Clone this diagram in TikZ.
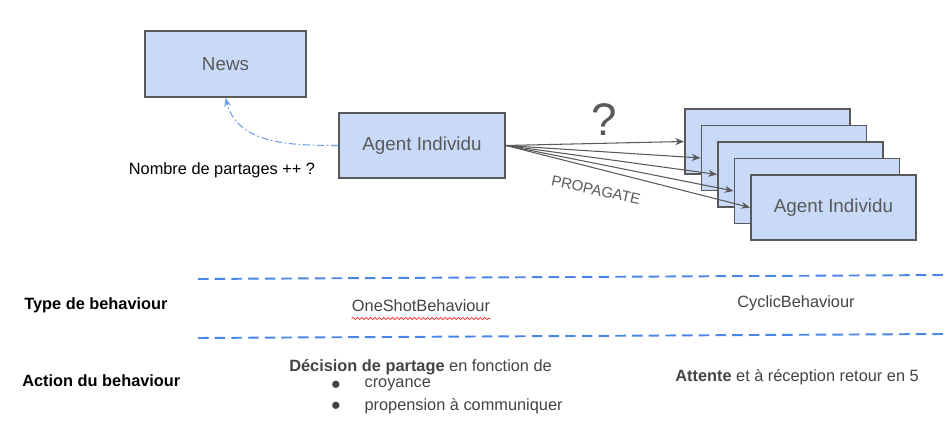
\documentclass[tikz,border=0pt]{standalone}
\usepackage{fontspec}
\setmainfont{Liberation Sans}
\usetikzlibrary{positioning,arrows.meta,decorations.pathmorphing}
\definecolor{boxfill}{HTML}{C9DAF8}
\definecolor{boxline}{HTML}{595959}
\definecolor{sepblue}{HTML}{4A86E8}
\definecolor{linkblue}{HTML}{6D9EEB}
\definecolor{txtgray}{HTML}{434343}
\tikzstyle{AgentBox}=[rectangle, draw=boxline, fill=boxfill, line width=1.1pt, minimum width=3.3cm, minimum height=1.3cm, text=boxline, font=\fontsize{10.7}{12}\selectfont]
\tikzstyle{Etiqueta}=[inner sep=0pt, font=\fontsize{9.3}{11}\selectfont]
\tikzstyle{Puce}=[inner sep=0pt, text=txtgray, font=\fontsize{9.5}{10}\selectfont]
\tikzstyle{TituloFila}=[inner sep=0pt, anchor=west, font=\fontsize{9.3}{11}\selectfont\bfseries]
\tikzstyle{Flecha}=[-{Stealth[length=5pt,width=4pt]}, draw=boxline, line width=0.6pt]
\tikzstyle{Retorno}=[-{Stealth[length=5pt,width=4pt]}, draw=linkblue, line width=0.6pt, dash pattern=on 4pt off 1.5pt on 1pt off 1.5pt]
\tikzstyle{Separador}=[draw=sepblue, line width=1.1pt, dash pattern=on 6pt off 3.5pt]

\begin{document}
\begin{tikzpicture}[x=0.02cm, y=-0.02cm]
			\useasboundingbox (0,0) rectangle (951,421);

			%Nodos
			\node[AgentBox, minimum width=3.22cm, minimum height=1.32cm]	(news)	at (225.5,64)	{News};
			\node[AgentBox, minimum width=3.32cm]	(agent)	at (422,145.5)	{Agent Individu};

			\node[AgentBox]	(cible1)	at (767.5,141.5)	{};
			\node[AgentBox]	(cible2)	at ([shift={(16.5,16.5)}]cible1)	{};
			\node[AgentBox]	(cible3)	at ([shift={(16.5,16.5)}]cible2)	{};
			\node[AgentBox]	(cible4)	at ([shift={(16.5,16.5)}]cible3)	{};
			\node[AgentBox]	(cible5)	at ([shift={(16.5,16.5)}]cible4)	{Agent Individu};

			\node[text=boxline, font=\fontsize{26}{30}\selectfont]	(pregunta)	at (604,120)	{?};
			\node[text=boxline, rotate=-12.5, inner sep=0pt, font=\fontsize{8.5}{10}\selectfont]	(propagate)	at (596,190)	{PROPAGATE};
			\node[Etiqueta]	(nombre)	at (222,170)	{Nombre de partages ++ ?};

			%Lineas
			\draw[Retorno] (agent.west) to[out=180, in=-75] (news.south);
			\draw[Flecha] (agent.east) -- (cible1.west);
			\draw[Flecha] (agent.east) -- (cible2.west);
			\draw[Flecha] (agent.east) -- (cible3.west);
			\draw[Flecha] (agent.east) -- (cible4.west);
			\draw[Flecha] (agent.east) -- (cible5.west);

			%Tableau
			\draw[Separador] (198,279) -- (946,275);
			\draw[Separador] (198,338) -- (946,334);

			\node[TituloFila]	(type)	at (24,305)	{Type de behaviour};
			\node[Etiqueta, text=txtgray]	(oneshot)	at (421,306)	{OneShotBehaviour};
			\node[Etiqueta, text=txtgray]	(cyclic)	at (796,303)	{CyclicBehaviour};
			\draw[red!85, line width=0.4pt, decorate, decoration={snake, amplitude=0.6pt, segment length=2.5pt}] ([yshift=-3.5pt]oneshot.south west) -- ([yshift=-3.5pt]oneshot.south east);

			\node[TituloFila]	(action)	at (22,381)	{Action du behaviour};
			\node[Etiqueta, text=txtgray, anchor=west]	(decision)	at (289,367)	{\textbf{Décision de partage} en fonction de};
			\node[Puce]	(puce1)	at (336,385)	{●};
			\node[Etiqueta, text=txtgray, right=13pt of puce1]	(croyance)	{croyance};
			\node[Puce]	(puce2)	at (336,406)	{●};
			\node[Etiqueta, text=txtgray, right=13pt of puce2]	(propension)	{propension à communiquer};
			\node[Etiqueta, text=txtgray, anchor=west]	(attente)	at (675,377)	{\textbf{Attente} et à réception retour en 5};

		\end{tikzpicture}
\end{document}
